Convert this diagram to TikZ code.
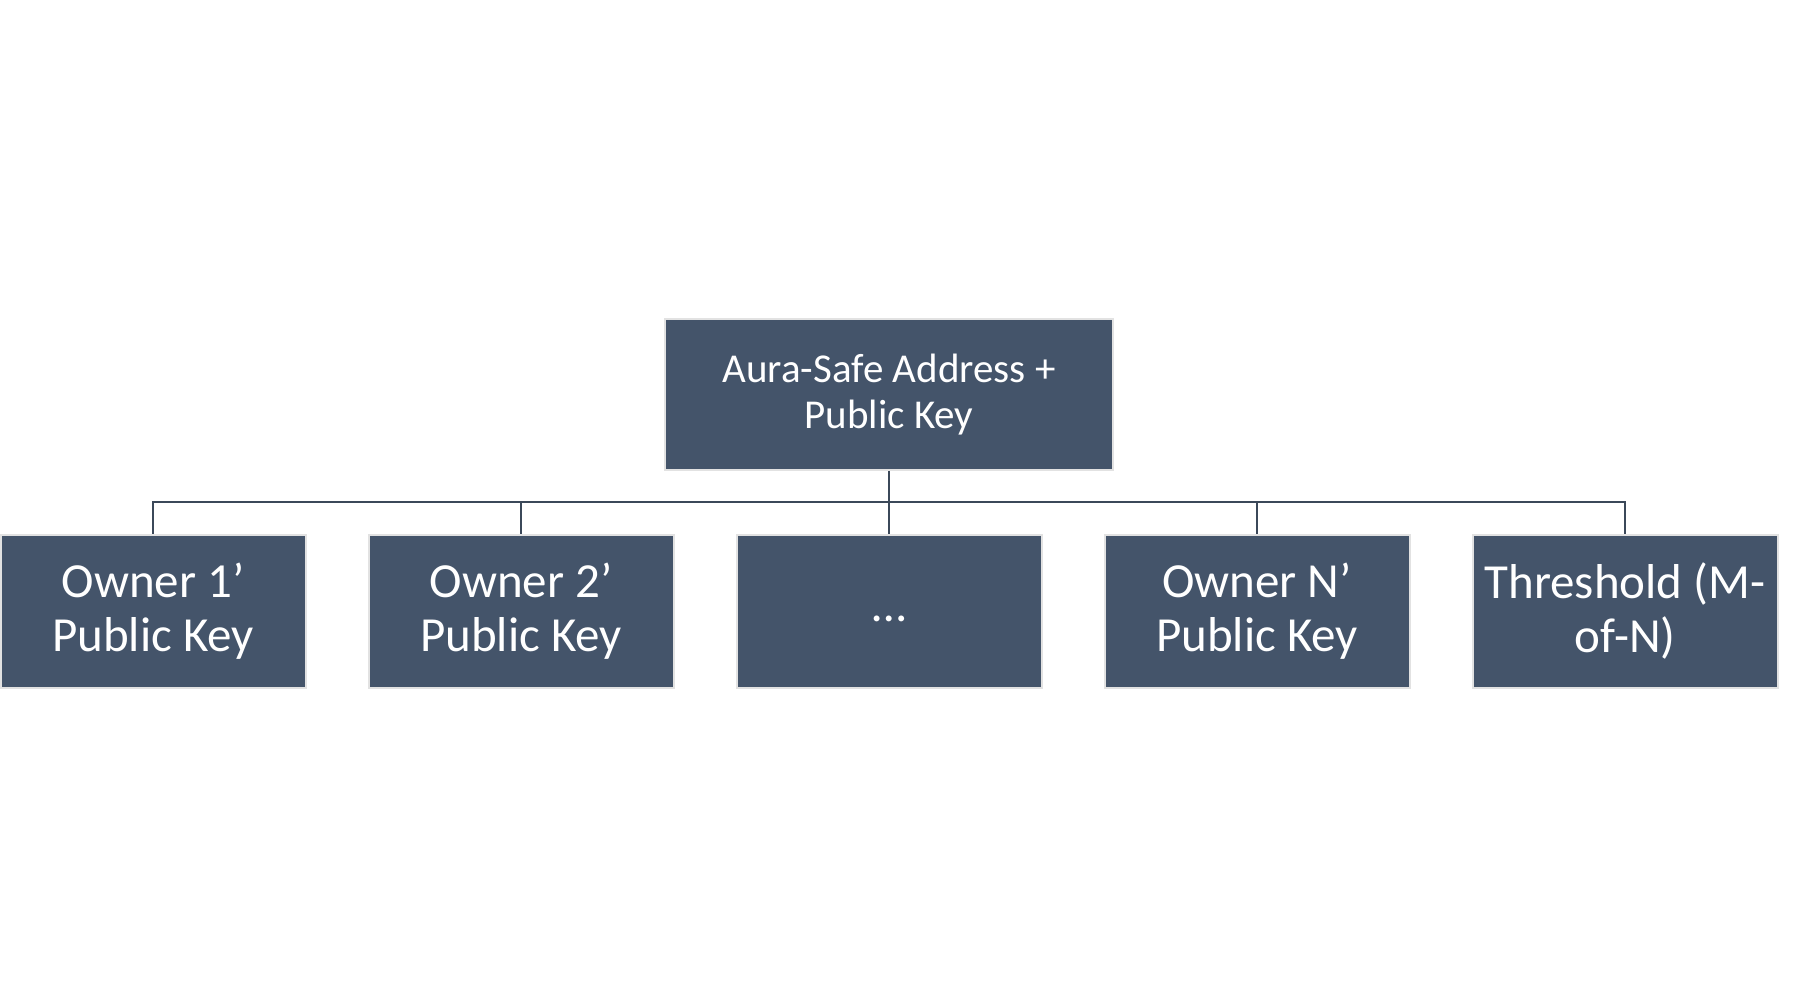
\documentclass[tikz,border=0pt]{standalone}
\usepackage{fontspec}
\setmainfont{Carlito}
\definecolor{boxfill}{HTML}{44546A}
\definecolor{boxline}{HTML}{E2E2E2}
\definecolor{busline}{HTML}{3B4859}
\begin{document}
\begin{tikzpicture}[x=0.5pt,y=-0.5pt,
	keybox/.style={draw=boxline,fill=boxfill,line width=1pt,text=white,align=center,inner sep=0pt,minimum width=152.5pt,minimum height=76.5pt,font=\fontsize{24.5}{27}\selectfont},
	topbox/.style={keybox,minimum width=224pt,minimum height=75.5pt,font=\fontsize{20.5}{23}\selectfont},
	bus/.style={draw=busline,line width=1pt}]
			\useasboundingbox (0,0) rectangle (1799,1005);
			\node[topbox] (k0) at (889,394.5){Aura-Safe Address +\\Public Key};
			\node[keybox] (k1) at (153,611){Owner 1’\\Public Key};
			\node[keybox] (k2) at (521,611){Owner 2’\\Public Key};
			\node[keybox] (k3) at (889,611){\strut…};
			\node[keybox] (k4) at (1257,611){Owner N’\\Public Key};
			\node[keybox] (k5) at (1625,611){Threshold (M-\\of-N)};
			\coordinate (hub) at (889,502);
			\draw[bus] (k0.south) -- (hub);
			\foreach \i in {1,...,5}
				\draw[bus] (hub) -| (k\i.north);
		\end{tikzpicture}
\end{document}
